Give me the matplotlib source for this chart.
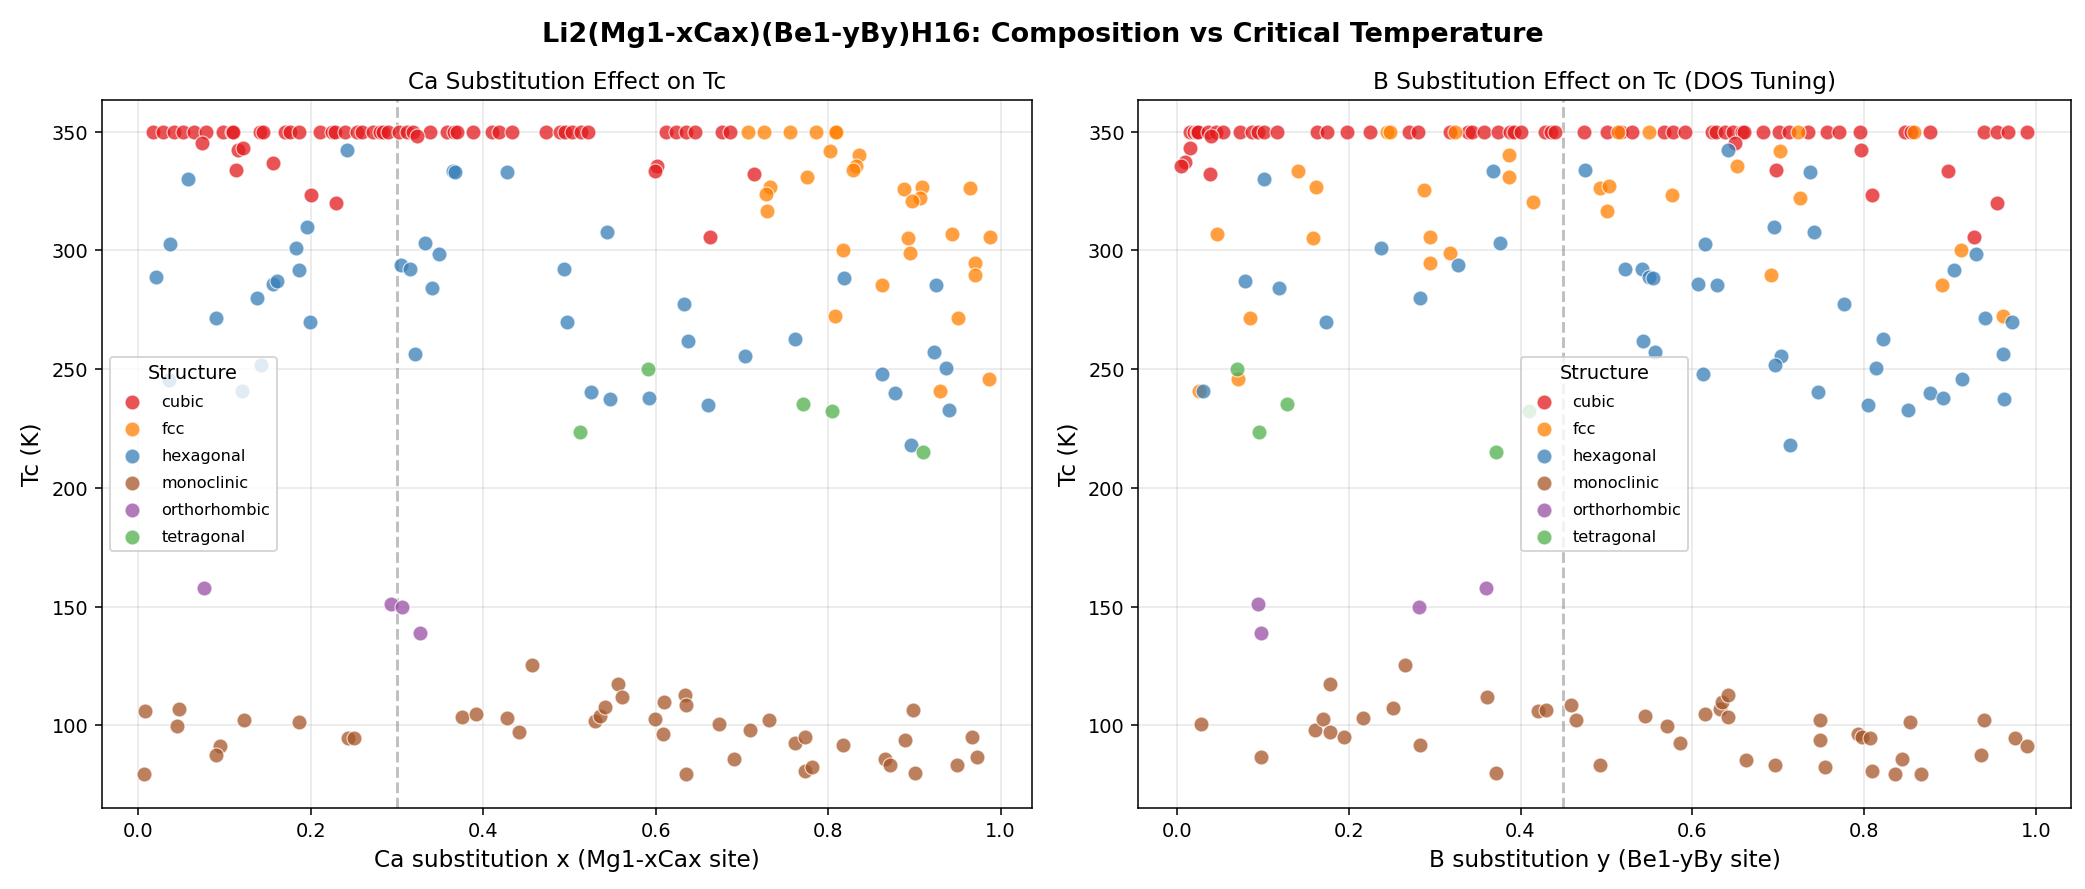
import matplotlib
matplotlib.use("Agg")
import matplotlib.pyplot as plt


STRUCTURES = ["cubic", "fcc", "hexagonal", "monoclinic", "orthorhombic", "tetragonal"]
COLORS = {
    "cubic": "#e41a1c",
    "fcc": "#ff7f00",
    "hexagonal": "#377eb8",
    "monoclinic": "#a65628",
    "orthorhombic": "#984ea3",
    "tetragonal": "#4daf4a",
}

# ---- Ca substitution panel (x vs Tc) ----
CA_CUBIC_X = [
    0.017, 0.029, 0.041, 0.052, 0.065, 0.078, 0.098, 0.108, 0.110, 0.141,
    0.145, 0.170, 0.176, 0.186, 0.211, 0.224, 0.228, 0.240, 0.253, 0.259,
    0.272, 0.280, 0.284, 0.290, 0.302, 0.311, 0.319, 0.338, 0.358, 0.366,
    0.369, 0.388, 0.410, 0.418, 0.433, 0.473, 0.489, 0.495, 0.503, 0.513,
    0.521, 0.612, 0.623, 0.635, 0.645, 0.677, 0.686,
    0.074, 0.116, 0.121, 0.113, 0.156, 0.200, 0.229, 0.323, 0.601, 0.599,
    0.714, 0.663,
]
CA_CUBIC_TC = [
    350, 350, 350, 350, 350, 350, 350, 350, 350, 350,
    350, 350, 350, 350, 350, 350, 350, 350, 350, 350,
    350, 350, 350, 350, 350, 350, 350, 350, 350, 350,
    350, 350, 350, 350, 350, 350, 350, 350, 350, 350,
    350, 350, 350, 350, 350, 350, 350,
    345.2, 342.4, 343.1, 334.0, 336.8, 323.2, 319.9, 348.0, 335.7, 333.3,
    332.2, 305.6,
]
CA_FCC_X = [
    0.707, 0.726, 0.756, 0.786, 0.808, 0.809,
    0.802, 0.836, 0.832, 0.829, 0.775, 0.732, 0.728, 0.729, 0.888, 0.909,
    0.907, 0.897, 0.964, 0.893, 0.895, 0.944, 0.988, 0.817, 0.970, 0.970,
    0.863, 0.808, 0.951, 0.987, 0.930,
]
CA_FCC_TC = [
    350, 350, 350, 350, 350, 350,
    341.9, 340.3, 335.7, 333.6, 330.9, 326.7, 323.5, 316.4, 325.6, 326.7,
    322.1, 320.6, 326.3, 305.3, 298.9, 307.0, 305.6, 300.1, 294.7, 289.7,
    285.5, 272.2, 271.5, 245.8, 240.8,
]
CA_HEX_X = [
    0.242, 0.365, 0.367, 0.428, 0.058, 0.037, 0.196, 0.183, 0.332, 0.349,
    0.021, 0.186, 0.305, 0.315, 0.341, 0.156, 0.161, 0.138, 0.090, 0.199,
    0.494, 0.497, 0.543, 0.633, 0.818, 0.925, 0.321, 0.035, 0.120, 0.142,
    0.638, 0.704, 0.762, 0.525, 0.547, 0.592, 0.661, 0.923, 0.937, 0.862,
    0.878, 0.940, 0.896,
]
CA_HEX_TC = [
    342.3, 333.3, 333.0, 333.0, 330.1, 302.8, 309.8, 301.0, 303.1, 298.5,
    288.9, 291.7, 294.0, 292.1, 284.1, 285.8, 287.2, 279.9, 271.5, 269.8,
    292.1, 269.8, 307.7, 277.5, 288.3, 285.5, 256.3, 245.5, 240.8, 251.9,
    261.8, 255.5, 262.7, 240.3, 237.4, 237.8, 234.9, 257.2, 250.4, 247.9,
    239.9, 232.8, 218.0,
]
CA_MONO_X = [
    0.008, 0.006, 0.047, 0.045, 0.095, 0.090, 0.123, 0.186, 0.243, 0.250,
    0.375, 0.391, 0.428, 0.441, 0.457, 0.530, 0.535, 0.541, 0.556, 0.561,
    0.599, 0.608, 0.610, 0.634, 0.635, 0.635, 0.673, 0.691, 0.709, 0.731,
    0.762, 0.773, 0.773, 0.781, 0.817, 0.866, 0.872, 0.889, 0.898, 0.901,
    0.950, 0.967, 0.973,
]
CA_MONO_TC = [
    106.0, 79.6, 106.7, 99.7, 91.3, 87.5, 102.2, 101.4, 94.5, 94.5,
    103.5, 104.8, 102.9, 97.2, 125.5, 101.8, 103.9, 107.7, 117.5, 111.9,
    102.7, 96.2, 109.8, 112.7, 108.5, 79.6, 100.6, 86.0, 97.9, 102.2,
    92.6, 95.1, 80.8, 82.6, 91.7, 85.6, 83.2, 94.0, 106.4, 80.0,
    83.3, 95.1, 86.7,
]
CA_ORTHO_X = [0.076, 0.293, 0.306, 0.327]
CA_ORTHO_TC = [157.7, 151.1, 150.0, 138.8]
CA_TETRA_X = [0.591, 0.512, 0.771, 0.805, 0.910]
CA_TETRA_TC = [250.0, 223.5, 235.3, 232.3, 215.1]

# ---- B substitution panel (y vs Tc) ----
B_CUBIC_Y = [
    0.015, 0.020, 0.023, 0.025, 0.036, 0.046, 0.054, 0.073, 0.087, 0.095,
    0.102, 0.117, 0.163, 0.175, 0.198, 0.225, 0.270, 0.281, 0.318, 0.339,
    0.343, 0.357, 0.374, 0.388, 0.392, 0.401, 0.428, 0.435, 0.440, 0.474,
    0.501, 0.517, 0.530, 0.567, 0.577, 0.591, 0.623, 0.627, 0.638, 0.647,
    0.658, 0.660, 0.682, 0.701, 0.712, 0.735, 0.757, 0.771, 0.795, 0.847,
    0.854, 0.877, 0.940, 0.954, 0.967, 0.990,
    0.040, 0.015, 0.009, 0.005, 0.038, 0.650, 0.796, 0.697, 0.898, 0.809,
    0.955, 0.928,
]
B_CUBIC_TC = [
    350, 350, 350, 350, 350, 350, 350, 350, 350, 350,
    350, 350, 350, 350, 350, 350, 350, 350, 350, 350,
    350, 350, 350, 350, 350, 350, 350, 350, 350, 350,
    350, 350, 350, 350, 350, 350, 350, 350, 350, 350,
    350, 350, 350, 350, 350, 350, 350, 350, 350, 350,
    350, 350, 350, 350, 350, 350,
    348.3, 343.0, 337.1, 335.7, 332.2, 345.2, 342.1, 333.7, 333.4, 323.2,
    319.9, 305.6,
]
B_FCC_Y = [
    0.245, 0.248, 0.324, 0.513, 0.549, 0.723, 0.858,
    0.387, 0.386, 0.141, 0.162, 0.288, 0.414, 0.492, 0.503, 0.501, 0.047,
    0.158, 0.295, 0.318, 0.295, 0.085, 0.702, 0.652, 0.576, 0.725, 0.913,
    0.692, 0.890, 0.962, 0.026, 0.071,
]
B_FCC_TC = [
    350, 350, 350, 350, 350, 350, 350,
    340.2, 330.9, 333.3, 326.7, 325.4, 320.4, 326.3, 327.0, 316.7, 306.9,
    305.3, 305.8, 298.9, 294.7, 271.5, 341.9, 335.5, 323.3, 322.1, 300.0,
    289.6, 285.5, 272.5, 240.9, 245.8,
]
B_HEX_Y = [
    0.102, 0.368, 0.475, 0.238, 0.376, 0.327, 0.079, 0.119, 0.283, 0.174,
    0.642, 0.737, 0.695, 0.741, 0.615, 0.930, 0.905, 0.522, 0.541, 0.550,
    0.554, 0.606, 0.629, 0.776, 0.941, 0.972, 0.031, 0.543, 0.557, 0.612,
    0.703, 0.696, 0.746, 0.714, 0.822, 0.814, 0.804, 0.851, 0.877, 0.892,
    0.914, 0.961, 0.963,
]
B_HEX_TC = [
    330.1, 333.3, 333.6, 301.0, 303.1, 294.0, 287.2, 284.1, 279.9, 269.8,
    342.1, 333.0, 309.8, 307.7, 302.7, 298.5, 291.7, 292.1, 292.1, 288.8,
    288.3, 285.8, 285.4, 277.4, 271.5, 269.8, 240.9, 261.8, 257.2, 248.1,
    255.6, 251.9, 240.3, 218.0, 262.7, 250.4, 234.9, 232.8, 239.9, 237.8,
    245.8, 256.3, 237.4,
]
B_MONO_Y = [
    0.028, 0.098, 0.161, 0.170, 0.178, 0.178, 0.195, 0.217, 0.251, 0.265,
    0.283, 0.361, 0.372, 0.420, 0.430, 0.459, 0.465, 0.493, 0.545, 0.570,
    0.586, 0.615, 0.632, 0.635, 0.642, 0.641, 0.662, 0.696, 0.749, 0.749,
    0.754, 0.793, 0.798, 0.807, 0.809, 0.836, 0.844, 0.853, 0.866, 0.936,
    0.939, 0.975, 0.989,
]
B_MONO_TC = [
    100.4, 86.7, 97.9, 102.7, 117.5, 97.1, 95.1, 103.1, 107.3, 125.5,
    91.7, 111.9, 80.0, 106.0, 106.4, 108.5, 102.2, 83.3, 104.1, 99.7,
    92.6, 104.9, 106.7, 109.9, 112.6, 103.5, 85.4, 83.3, 102.2, 94.0,
    82.5, 96.5, 95.1, 94.5, 80.8, 79.4, 86.0, 101.4, 79.4, 87.5,
    102.2, 94.8, 91.3,
]
B_ORTHO_Y = [0.094, 0.098, 0.282, 0.360]
B_ORTHO_TC = [151.0, 138.8, 150.0, 157.7]
B_TETRA_Y = [0.070, 0.128, 0.096, 0.371, 0.410]
B_TETRA_TC = [250.2, 235.4, 223.5, 215.1, 232.5]

CA_DATA = {
    "cubic": (CA_CUBIC_X, CA_CUBIC_TC),
    "fcc": (CA_FCC_X, CA_FCC_TC),
    "hexagonal": (CA_HEX_X, CA_HEX_TC),
    "monoclinic": (CA_MONO_X, CA_MONO_TC),
    "orthorhombic": (CA_ORTHO_X, CA_ORTHO_TC),
    "tetragonal": (CA_TETRA_X, CA_TETRA_TC),
}
B_DATA = {
    "cubic": (B_CUBIC_Y, B_CUBIC_TC),
    "fcc": (B_FCC_Y, B_FCC_TC),
    "hexagonal": (B_HEX_Y, B_HEX_TC),
    "monoclinic": (B_MONO_Y, B_MONO_TC),
    "orthorhombic": (B_ORTHO_Y, B_ORTHO_TC),
    "tetragonal": (B_TETRA_Y, B_TETRA_TC),
}


def draw_panel(ax, data, vline, title, xlabel, legend_loc, xlim):
    for name in STRUCTURES:
        xs, tcs = data[name]
        ax.scatter(
            xs, tcs,
            s=60,
            color=COLORS[name],
            alpha=0.75,
            edgecolors="white",
            linewidths=0.6,
            label=name,
            zorder=3,
        )
    ax.axvline(vline, color="gray", linestyle="--", alpha=0.5, linewidth=1.5, zorder=2)
    ax.set_xlim(*xlim)
    ax.set_ylim(65.3, 363.2)
    ax.set_xticks([0.0, 0.2, 0.4, 0.6, 0.8, 1.0])
    ax.set_yticks([100, 150, 200, 250, 300, 350])
    ax.set_xlabel(xlabel, fontsize=12)
    ax.set_ylabel("Tc (K)", fontsize=12)
    ax.set_title(title, fontsize=12)
    ax.grid(True, alpha=0.3, zorder=0)
    ax.set_axisbelow(True)
    ax.legend(
        title="Structure", loc=legend_loc,
        fontsize="small", title_fontsize=10, labelspacing=0.75,
    )


# 15 x 6.4 in at 139 dpi -> 2085 x 889 px
fig = plt.figure(figsize=(15, 6.4), dpi=139)
ax1 = fig.add_axes([0.0488, 0.0914, 0.4462, 0.7953])
ax2 = fig.add_axes([0.5459, 0.0914, 0.4473, 0.7953])

draw_panel(
    ax1, CA_DATA, 0.3,
    "Ca Substitution Effect on Tc",
    "Ca substitution x (Mg1-xCax site)",
    "center left",
    (-0.0425, 1.0365),
)
draw_panel(
    ax2, B_DATA, 0.45,
    "B Substitution Effect on Tc (DOS Tuning)",
    "B substitution y (Be1-yBy site)",
    "center",
    (-0.045, 1.0405),
)

fig.suptitle(
    "Li2(Mg1-xCax)(Be1-yBy)H16: Composition vs Critical Temperature",
    fontsize=14, fontweight="bold", y=0.975,
)

fig.savefig("out.png", dpi=139)
